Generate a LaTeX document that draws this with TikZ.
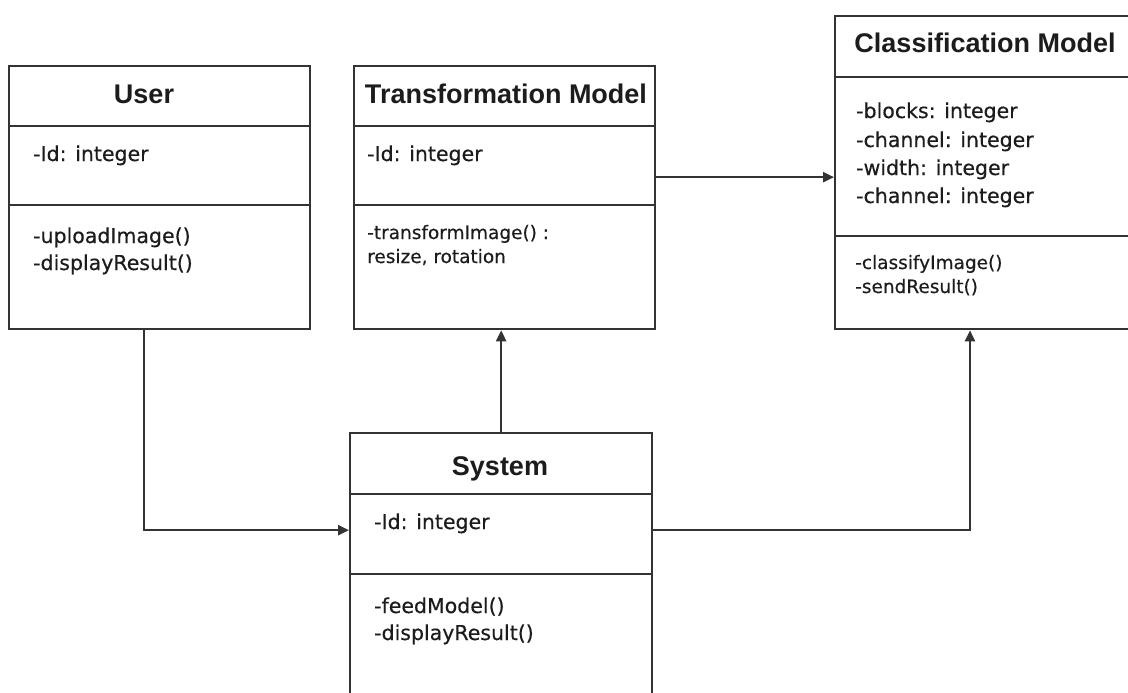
\documentclass[tikz,border=0pt]{standalone}
\usepackage{fontspec}
\usetikzlibrary{arrows.meta}
\newfontfamily\ttlfam{Liberation Sans}
\newfontfamily\bodyfam{DejaVu Sans}[FakeBold=0.4]
\newcommand\ttlfnt{\ttlfam\bfseries\fontsize{27}{32}\selectfont}
\newcommand\bodyfnt{\bodyfam\fontsize{20.5}{27}\selectfont}
\newcommand\smlfnt{\bodyfam\fontsize{18.5}{24}\selectfont}
\definecolor{linec}{HTML}{333333}
\definecolor{txt}{HTML}{1C1C1C}
\tikzset{
  comp/.style={draw=linec, line width=2.3pt, rectangle, inner sep=0pt, anchor=north west, fill=white},
  ttl/.style={font=\ttlfnt, text=txt, inner sep=0pt, anchor=base},
  att/.style={font=\bodyfnt, text=txt, inner sep=0pt, anchor=base west},
  sml/.style={font=\smlfnt, text=txt, inner sep=0pt, anchor=base west},
  arr/.style={draw=linec, line width=2.3pt, -{Triangle[length=11pt,width=10pt]}},
}
\begin{document}
\begin{tikzpicture}[x=1pt,y=-1pt]
\useasboundingbox (0,0) rectangle (1128,693);
\clip (0,0) rectangle (1128,693);
\fill[white] (0,0) rectangle (1128,693);

% User
\node[comp, minimum width=301pt, minimum height=60pt] (userH) at (8,65) {};
\node[comp, minimum width=301pt, minimum height=79pt] (userA) at (8,125) {};
\node[comp, minimum width=301pt, minimum height=124pt] (userM) at (8,204) {};
\node[ttl] (userT) at (144,103) {User};
\node[att] (userA1) at (33,161) {-Id: integer};
\node[att] (userM1) at (33,243) {-uploadImage()};
\node[att] (userM2) at (33,270) {-displayResult()};

% Transformation Model
\node[comp, minimum width=301pt, minimum height=60pt] (transH) at (353,65) {};
\node[comp, minimum width=301pt, minimum height=79pt] (transA) at (353,125) {};
\node[comp, minimum width=301pt, minimum height=124pt] (transM) at (353,204) {};
\node[ttl] (transT) at (506,103) {Transformation Model};
\node[att] (transA1) at (367,161) {-Id: integer};
\node[sml] (transM1) at (367,239) {-transformImage() :};
\node[sml] (transM2) at (367,263) {resize, rotation};

% Classification Model
\node[comp, minimum width=310pt, minimum height=61pt] (classH) at (834,15) {};
\node[comp, minimum width=310pt, minimum height=159pt] (classA) at (834,76) {};
\node[comp, minimum width=310pt, minimum height=93pt] (classM) at (834,235) {};
\node[ttl] (classT) at (985,53) {Classification Model};
\node[att] (classA1) at (856,118) {-blocks: integer};
\node[att] (classA2) at (856,147) {-channel: integer};
\node[att] (classA3) at (856,175) {-width: integer};
\node[att] (classA4) at (856,203) {-channel: integer};
\node[sml] (classM1) at (855,269) {-classifyImage()};
\node[sml] (classM2) at (855,293) {-sendResult()};

% System
\node[comp, minimum width=302pt, minimum height=61pt] (sysH) at (349,432) {};
\node[comp, minimum width=302pt, minimum height=80pt] (sysA) at (349,493) {};
\node[comp, minimum width=302pt, minimum height=140pt] (sysM) at (349,573) {};
\node[ttl] (sysT) at (500,475) {System};
\node[att] (sysA1) at (374,529) {-Id: integer};
\node[att] (sysM1) at (374,613) {-feedModel()};
\node[att] (sysM2) at (374,640) {-displayResult()};

% Connectors
\draw[arr] ([xshift=136pt]userM.south west) |- ([yshift=4pt]sysA.west);
\draw[arr] (sysH.north) -- (sysH.north |- transM.south);
\draw[arr] ([yshift=-11.5pt]transA.east) -- ([yshift=-11.5pt]transA.east -| classA.west);
\draw[arr] ([yshift=4pt]sysA.east) -| ([xshift=136pt]classM.south west);
\end{tikzpicture}
\end{document}
